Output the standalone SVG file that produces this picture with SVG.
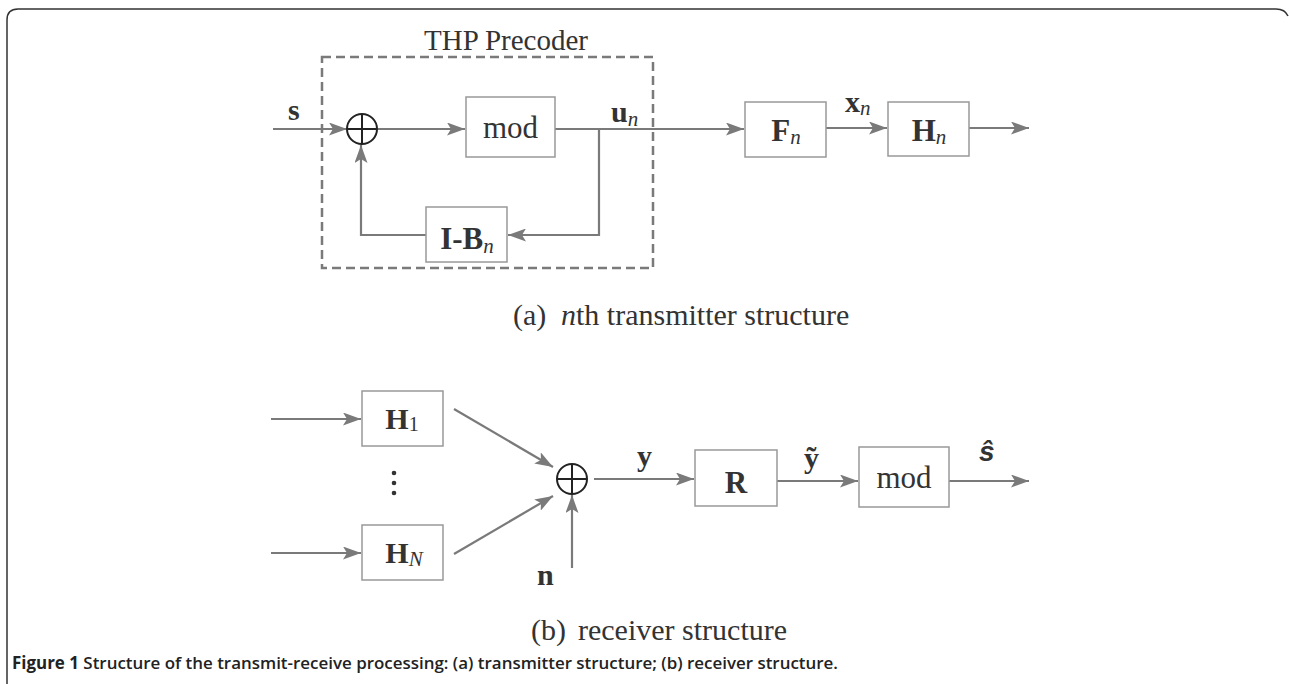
<svg xmlns="http://www.w3.org/2000/svg" width="1290" height="684" viewBox="0 0 1290 684">
<style>
.box{fill:#fff;stroke:#999;stroke-width:1.5}
.ln{fill:none;stroke:#7a7a7a;stroke-width:2.2}
.sum{fill:#fff;stroke:#222;stroke-width:2}
.t{font-family:"Liberation Serif","Times New Roman",serif;fill:#333}
.b{font-weight:bold}
.i{font-style:italic;font-weight:normal}
.cap{font-family:"Open Sans","Liberation Sans",sans-serif;fill:#222}
</style>
<defs>
<marker id="arr" viewBox="0 0 18 13" refX="18" refY="6.5" markerWidth="18" markerHeight="13" markerUnits="userSpaceOnUse" orient="auto">
<path d="M0,0 L18,6.5 L0,13 L4,6.5 z" fill="#7a7a7a"/>
</marker>
</defs>
<rect width="1290" height="684" fill="#fff"/>
<path d="M7,684 V20 Q7,9 18,9 H1276 Q1285,9 1288,16" fill="none" stroke="#333" stroke-width="1.5"/>

<g id="thp-precoder">
<rect x="322" y="57" width="331" height="211" fill="none" stroke="#7a7a7a" stroke-width="2.5" stroke-dasharray="9,5"/>
<text class="t" x="424" y="50" font-size="29">THP Precoder</text>
</g>

<g id="connectors">
<path class="ln" d="M273,129 H347" marker-end="url(#arr)"/>
<path class="ln" d="M378,129 H465" marker-end="url(#arr)"/>
<path class="ln" d="M555,129 H744" marker-end="url(#arr)"/>
<path class="ln" d="M599,129 V235 H508" marker-end="url(#arr)"/>
<path class="ln" d="M426,235 H361 V145" marker-end="url(#arr)"/>
<path class="ln" d="M826,128 H887" marker-end="url(#arr)"/>
<path class="ln" d="M969,128 H1029" marker-end="url(#arr)"/>
<path class="ln" d="M271,419 H361" marker-end="url(#arr)"/>
<path class="ln" d="M271,553 H361" marker-end="url(#arr)"/>
<path class="ln" d="M454,409 L553,467" marker-end="url(#arr)"/>
<path class="ln" d="M454,554 L553,496" marker-end="url(#arr)"/>
<path class="ln" d="M572,568 V495" marker-end="url(#arr)"/>
<path class="ln" d="M594,479 H694" marker-end="url(#arr)"/>
<path class="ln" d="M777,481 H858" marker-end="url(#arr)"/>
<path class="ln" d="M949,481 H1029" marker-end="url(#arr)"/>
</g>

<g id="sum1">
<circle class="sum" cx="362" cy="129" r="15"/>
<path d="M347,129 H377 M362,114 V144" stroke="#222" stroke-width="2"/>
</g>
<g id="mod1">
<rect class="box" x="466" y="97" width="89" height="60"/>
<text class="t" x="510.5" y="138" font-size="31" text-anchor="middle">mod</text>
</g>
<g id="ib">
<rect class="box" x="426" y="207" width="81" height="55"/>
<text class="t b" x="467" y="249" font-size="31" text-anchor="middle">I-B<tspan class="i" font-size="21" dy="4">n</tspan></text>
</g>
<g id="fn">
<rect class="box" x="745" y="102" width="81" height="55"/>
<text class="t b" x="786" y="141" font-size="31" text-anchor="middle">F<tspan class="i" font-size="21" dy="3">n</tspan></text>
</g>
<g id="hn">
<rect class="box" x="888" y="102" width="81" height="54"/>
<text class="t b" x="929" y="141" font-size="31" text-anchor="middle">H<tspan class="i" font-size="21" dy="3">n</tspan></text>
</g>
<g id="labels-a">
<text class="t b" x="288" y="120" font-size="30">s</text>
<text class="t b" x="611" y="122" font-size="30">u<tspan class="i" font-size="21" dy="4">n</tspan></text>
<text class="t b" x="845" y="112" font-size="30">x<tspan class="i" font-size="21" dy="3">n</tspan></text>
</g>
<text class="t" font-size="30" y="325"><tspan x="513">(a)</tspan><tspan x="561" font-style="italic">n</tspan><tspan>th transmitter structure</tspan></text>

<g id="h1">
<rect class="box" x="362" y="391" width="81" height="55"/>
<text class="t b" x="402" y="429" font-size="30" text-anchor="middle">H<tspan font-weight="normal" font-size="20" dy="2">1</tspan></text>
</g>
<g id="hN">
<rect class="box" x="362" y="525" width="81" height="55"/>
<text class="t b" x="404" y="563" font-size="30" text-anchor="middle">H<tspan class="i" font-size="21" dy="3">N</tspan></text>
</g>
<g id="dots" fill="#333">
<circle cx="394" cy="473" r="2.3"/>
<circle cx="394" cy="483" r="2.3"/>
<circle cx="394" cy="493" r="2.3"/>
</g>
<g id="sum2">
<circle class="sum" cx="572" cy="479" r="15"/>
<path d="M557,479 H587 M572,464 V494" stroke="#222" stroke-width="2"/>
</g>
<g id="r">
<rect class="box" x="695" y="450" width="82" height="56"/>
<text class="t b" x="736" y="493" font-size="31" text-anchor="middle">R</text>
</g>
<g id="mod2">
<rect class="box" x="859" y="447" width="90" height="60"/>
<text class="t" x="904" y="488" font-size="31" text-anchor="middle">mod</text>
</g>
<g id="labels-b">
<text class="t b" x="537" y="585" font-size="30">n</text>
<text class="t b" x="637" y="466" font-size="30">y</text>
<text class="t b" x="804" y="468" font-size="30">ỹ</text>
<text x="979" y="461" font-size="28" font-family="'Liberation Sans',Arial,sans-serif" font-weight="bold" font-style="italic" fill="#333">ŝ</text>
</g>
<text class="t" font-size="30" y="640"><tspan x="531">(b)</tspan><tspan x="578">receiver structure</tspan></text>

<text class="cap" x="12" y="669" font-size="17" textLength="826" lengthAdjust="spacingAndGlyphs"><tspan font-weight="bold">Figure 1</tspan><tspan font-weight="600"> Structure of the transmit-receive processing: (a) transmitter structure; (b) receiver structure.</tspan></text>
</svg>
